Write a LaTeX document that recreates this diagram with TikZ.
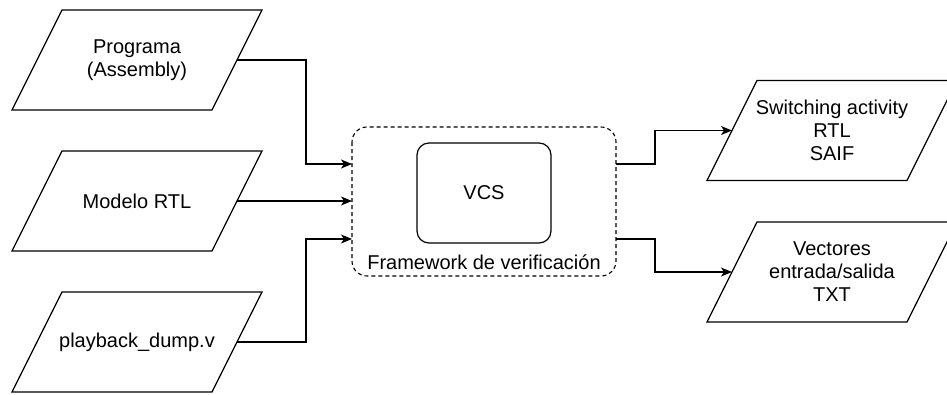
\documentclass[tikz,border=0pt]{standalone}
\usepackage{fontspec}
\setmainfont{Liberation Sans}
\usetikzlibrary{arrows.meta,calc}
\tikzset{
  shapeline/.style={draw=black,line width=1.2pt,line join=miter},
  lbl/.style={font=\fontsize{20}{23}\selectfont,align=center,inner sep=0pt},
  conn/.style={draw=black,line width=1.2pt,-{Stealth[length=11pt,width=9pt,inset=3pt]}},
  container/.style={draw=black,line width=1.1pt,dash pattern=on 4pt off 3pt,rounded corners=15pt},
  vcsbox/.style={draw=black,line width=1.2pt,rounded corners=12pt}
}
\newcommand\mypara[3]{%
  \node[lbl] (#1) at (#2) {#3};
  \draw[shapeline] ($(#2)+(-125,50)$) -- ($(#2)+(75,50)$) -- ($(#2)+(125,-50)$) -- ($(#2)+(-75,-50)$) -- cycle;
  \coordinate (#1-w) at ($(#2)+(-100,0)$);
  \coordinate (#1-e) at ($(#2)+(100,0)$);
}
\begin{document}
\begin{tikzpicture}[x=1pt,y=-1pt]
\useasboundingbox (0,0) rectangle (947,394);
\mypara{prog}{137,60}{Programa\\(Assembly)}
\mypara{rtl}{137,201}{Modelo RTL}
\mypara{play}{137,342}{playback\_dump.v}
\mypara{saif}{832,130.5}{Switching activity\\RTL\\SAIF}
\mypara{vec}{832,272}{Vectores\\entrada/salida\\TXT}
\draw[container] (352,127) rectangle (616,276);
\coordinate (fw-in1) at (352,164);
\coordinate (fw-in2) at (352,201);
\coordinate (fw-in3) at (352,239);
\coordinate (fw-out1) at (616,164);
\coordinate (fw-out2) at (616,239);
\node[vcsbox,minimum width=134pt,minimum height=100pt] (vcs) at (484,193) {};
\node[lbl] (vcstxt) at (vcs.center) {VCS};
\node[lbl] (fwlabel) at (484,262) {Framework de verificación};
\draw[conn] (prog-e) -- (306,60) -- (306,164) -- (fw-in1);
\draw[conn] (rtl-e) -- (fw-in2);
\draw[conn] (play-e) -- (306,342) -- (306,239) -- (fw-in3);
\draw[conn] (fw-out1) -- (655,164) -- (655,130.5) -- (saif-w);
\draw[conn] (fw-out2) -- (655,239) -- (655,272) -- (vec-w);
\end{tikzpicture}
\end{document}
